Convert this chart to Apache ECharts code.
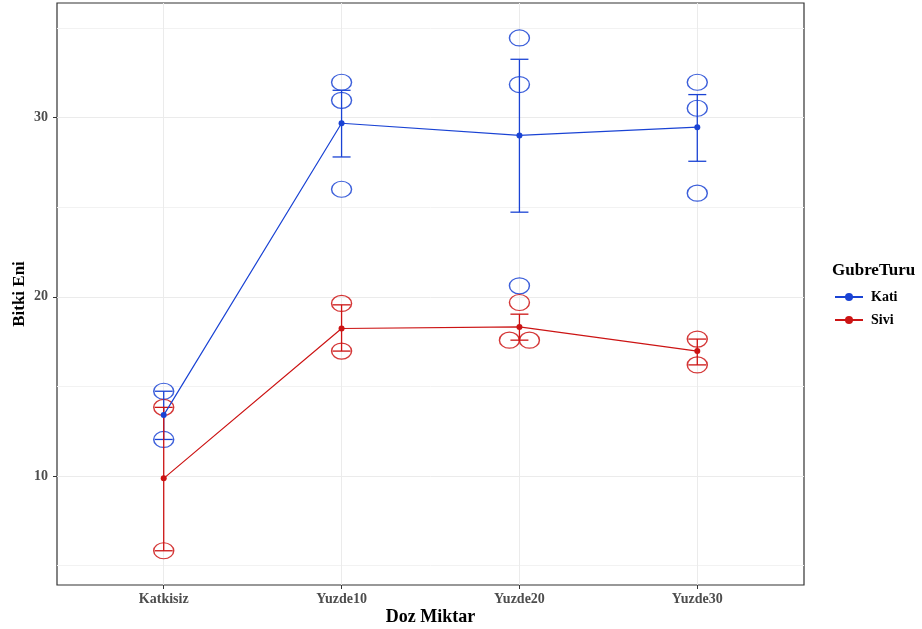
<!DOCTYPE html>
<html>
<head>
<meta charset="utf-8">
<script src="https://cdn.jsdelivr.net/npm/echarts@6/dist/echarts.min.js"></script>
<style>
  html, body { margin: 0; padding: 0; background: #fff; }
  #chart { width: 922px; height: 629px; }
</style>
</head>
<body>
<div id="chart"></div>
<script>
// Dose groups on the x axis
const categories = ['Katkisiz', 'Yuzde10', 'Yuzde20', 'Yuzde30'];
const groupNames = ['Kati', 'Sivi'];

// Individual observations per dose group
const katiObs = [[14.73, 12.04], [31.97, 30.96, 26.0], [34.44, 31.84, 20.61], [31.97, 30.52, 25.78]];
const siviObs = [[13.83, 5.83], [19.63, 16.97], [19.68, 17.58, 17.58], [17.64, 16.2]];

// Group means and error-bar bounds
const katiMean = [13.4, 29.68, 29.0, 29.46];
const katiLow  = [12.04, 27.80, 24.72, 27.56];
const katiHigh = [14.73, 31.52, 33.25, 31.28];
const siviMean = [9.87, 18.23, 18.32, 16.97];
const siviLow  = [5.83, 16.97, 17.58, 16.2];
const siviHigh = [13.83, 19.55, 19.03, 17.64];

// Axis ticks
const yTicks = [10, 20, 30];
const yMinorLines = [5, 15, 25, 35];
const xTicks = [1, 2, 3, 4];

const BLUE = '#1a43d4';
const RED = '#cc1414';
const FONT = '"Liberation Serif", "DejaVu Serif", serif';

function obsPoints(obs) {
  const pts = [];
  obs.forEach((vals, i) => {
    // identical values at the same dose are set side by side
    const seen = {};
    vals.forEach(v => {
      const key = v.toFixed(2);
      seen[key] = (seen[key] || 0) + 1;
    });
    const used = {};
    vals.forEach(v => {
      const key = v.toFixed(2);
      const n = seen[key];
      let off = 0;
      if (n > 1) {
        const k = used[key] || 0;
        used[key] = k + 1;
        off = (k - (n - 1) / 2) * 20;
      }
      pts.push({ value: [i + 1, v], symbolOffset: [off, 0] });
    });
  });
  return pts;
}

function errData(low, high) {
  return low.map((l, i) => [i + 1, l, high[i]]);
}

function errSeries(name, low, high, color) {
  return {
    type: 'custom',
    name: name,
    data: errData(low, high),
    z: 4,
    silent: true,
    renderItem: function (params, api) {
      const x = api.value(0);
      const lo = api.coord([x, api.value(1)]);
      const hi = api.coord([x, api.value(2)]);
      const w = 9;
      const style = { stroke: color, lineWidth: 1.3, fill: null };
      return {
        type: 'group',
        children: [
          { type: 'line', shape: { x1: lo[0], y1: lo[1], x2: hi[0], y2: hi[1] }, style: style },
          { type: 'line', shape: { x1: lo[0] - w, y1: lo[1], x2: lo[0] + w, y2: lo[1] }, style: style },
          { type: 'line', shape: { x1: hi[0] - w, y1: hi[1], x2: hi[0] + w, y2: hi[1] }, style: style }
        ]
      };
    }
  };
}

function pointSeries(name, obs, color) {
  return {
    type: 'scatter',
    name: name,
    data: obsPoints(obs),
    symbol: 'circle',
    symbolSize: [20, 16],
    z: 3,
    itemStyle: { color: 'rgba(0,0,0,0)', borderColor: color, borderWidth: 1.3, opacity: 0.85 },
    silent: true
  };
}

function meanSeries(name, means, color) {
  return {
    type: 'line',
    name: name,
    data: means.map((m, i) => [i + 1, m]),
    symbol: 'circle',
    symbolSize: 6,
    z: 5,
    lineStyle: { color: color, width: 1.2 },
    itemStyle: { color: color },
    silent: true
  };
}

const chart = echarts.init(document.getElementById('chart'), null, { renderer: 'canvas' });

const yMin = 3.92, yMax = 36.39;

chart.setOption({
  animation: false,
  backgroundColor: '#fff',
  title: {
    text: 'GubreTuru',
    left: 827,
    top: 257,
    textStyle: { fontFamily: FONT, fontWeight: 'bold', fontSize: 17, color: '#000' }
  },
  legend: {
    data: groupNames,
    orient: 'vertical',
    left: 829,
    top: 285,
    itemWidth: 28,
    itemHeight: 10,
    itemGap: 9,
    textStyle: { fontFamily: FONT, fontWeight: 'bold', fontSize: 14, color: '#000', padding: [0, 0, 0, 3] }
  },
  grid: {
    left: 57, right: 118, top: 3, bottom: 44,
    outerBoundsMode: 'none',
    containLabel: false,
    show: true, borderColor: '#333', borderWidth: 1.2, backgroundColor: '#fff'
  },
  xAxis: {
    type: 'value',
    min: 0.4, max: 4.6,
    name: 'Doz Miktar',
    nameLocation: 'middle',
    nameGap: 23,
    nameMoveOverlap: false,
    nameTextStyle: { fontFamily: FONT, fontWeight: 'bold', fontSize: 18, color: '#000', verticalAlign: 'top' },
    axisLine: { show: false },
    axisTick: { show: true, customValues: xTicks, length: 4, lineStyle: { color: '#333', width: 1 } },
    axisLabel: {
      customValues: xTicks,
      formatter: v => categories[Math.round(v) - 1] || '',
      margin: 7,
      fontFamily: FONT, fontWeight: 'bold', fontSize: 14, color: '#4d4d4d'
    },
    splitLine: { show: true, lineStyle: { color: '#ebebeb', width: 1 } }
  },
  yAxis: [
    {
      type: 'value',
      min: yMin, max: yMax,
      name: 'Bitki Eni',
      nameLocation: 'middle',
      nameGap: 29,
      nameMoveOverlap: false,
      nameRotate: 90,
      nameTextStyle: { fontFamily: FONT, fontWeight: 'bold', fontSize: 17, color: '#000' },
      axisLine: { show: false },
      axisTick: { show: true, customValues: yTicks, length: 4, lineStyle: { color: '#333', width: 1 } },
      axisLabel: {
        customValues: yTicks,
        margin: 9,
        fontFamily: FONT, fontWeight: 'bold', fontSize: 14, color: '#4d4d4d'
      },
      splitLine: { show: true, lineStyle: { color: '#ebebeb', width: 1 } },
      z: 1
    },
    {
      type: 'value',
      min: yMin, max: yMax,
      axisLine: { show: false },
      axisTick: { show: false, customValues: yMinorLines },
      axisLabel: { show: false, customValues: yMinorLines },
      splitLine: { show: true, lineStyle: { color: '#f2f2f2', width: 1 } },
      z: 0
    }
  ],
  series: [
    meanSeries('Kati', katiMean, BLUE),
    meanSeries('Sivi', siviMean, RED),
    pointSeries('Kati', katiObs, BLUE),
    pointSeries('Sivi', siviObs, RED),
    errSeries('Kati', katiLow, katiHigh, BLUE),
    errSeries('Sivi', siviLow, siviHigh, RED)
  ]
});
</script>
</body>
</html>
